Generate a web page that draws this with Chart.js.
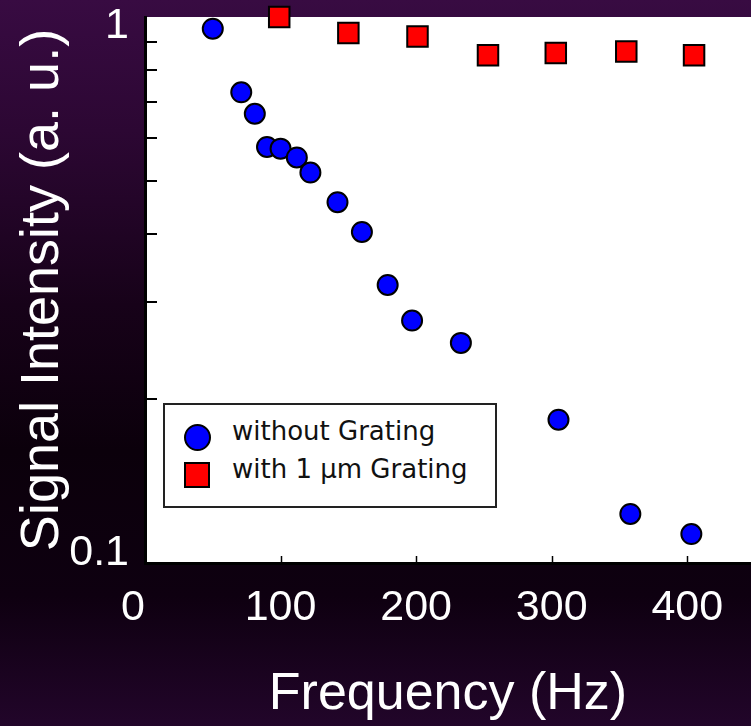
<!DOCTYPE html>
<html>
<head>
<meta charset="utf-8">
<script src="https://cdn.jsdelivr.net/npm/chart.js@4"></script>
<style>
  html, body { margin: 0; padding: 0; }
  body {
    width: 751px; height: 726px; overflow: hidden; position: relative;
    background: linear-gradient(to bottom, #380b42 0%, #2c0733 18%, #170219 42%, #0b000b 62%, #0e0010 82%, #22052a 100%);
  }
  #c { position: absolute; left: 0; top: 0; }
  .lg { position: absolute; box-sizing: border-box; }
  #lgbox { left: 163px; top: 403px; width: 334px; height: 105px; background: #fff; border: 2px solid #222; }
  #mk1 { left: 183.5px; top: 423.5px; width: 27px; height: 27px; background: #0000ff; border: 2px solid #000; border-radius: 50%; }
  #mk2 { left: 184px; top: 462px; width: 26px; height: 26px; background: #ff0000; border: 2px solid #000; }
  .lt { position: absolute; left: 232px; font-family: 'DejaVu Sans', sans-serif; font-size: 26px; line-height: 30px; color: #111; white-space: nowrap; }
  #lt1 { top: 416px; }
  #lt2 { top: 454px; }
</style>
</head>
<body>
<canvas id="c" width="751" height="726"></canvas>
<div class="lg" id="lgbox"></div>
<div class="lg" id="mk1"></div>
<div class="lg" id="mk2"></div>
<div class="lt" id="lt1">without Grating</div>
<div class="lt" id="lt2">with 1 μm Grating</div>
<script>
// ---- data ----
const freqWithout = [50, 71, 81, 90, 100, 112, 122, 142, 160, 179, 197, 233, 305, 358, 403];
const sigWithout  = [0.952, 0.728, 0.665, 0.578, 0.574, 0.553, 0.519, 0.458, 0.404, 0.323, 0.278, 0.253, 0.183, 0.123, 0.113];
const freqWith    = [99, 150, 201, 253, 303, 355, 405];
const sigWith     = [1.0, 0.935, 0.921, 0.851, 0.859, 0.865, 0.851];
const seriesNames = ['without Grating', 'with 1 μm Grating'];
const xTickValues = [0, 100, 200, 300, 400];
const yTickValues = [0.1, 0.2, 0.3, 0.4, 0.5, 0.6, 0.7, 0.8, 0.9, 1];
const yTickLabels = { '1': '1', '0.1': '0.1' };
const xTitle = 'Frequency (Hz)';
const yTitle = 'Signal Intensity (a. u.)';

const tickFont = "'Liberation Sans Narrow', 'Liberation Sans', Arial, sans-serif";
const titleFont = "'Liberation Sans', Arial, sans-serif";

const plotBg = {
  id: 'plotBg',
  beforeDraw(chart) {
    const { ctx, chartArea: a } = chart;
    ctx.save();
    ctx.fillStyle = '#ffffff';
    ctx.fillRect(a.left, a.top, a.right - a.left, a.bottom - a.top);
    ctx.restore();
  }
};

const innerTicks = {
  id: 'innerTicks',
  beforeDatasetsDraw(chart) {
    const { ctx, chartArea: a, scales: { x, y } } = chart;
    ctx.save();
    ctx.strokeStyle = '#000';
    ctx.lineWidth = 2;
    y.ticks.forEach(t => {
      if (t.value === 1 || t.value === 0.1) return;
      const py = Math.round(y.getPixelForValue(t.value));
      ctx.beginPath(); ctx.moveTo(a.left, py); ctx.lineTo(a.left + 12, py); ctx.stroke();
    });
    ctx.lineWidth = 1.5;
    x.ticks.forEach(t => {
      if (t.value === 0) return;
      const px = Math.round(x.getPixelForValue(t.value)) + 0.5;
      ctx.beginPath(); ctx.moveTo(px, a.bottom); ctx.lineTo(px, a.bottom - 7); ctx.stroke();
    });
    ctx.restore();
  }
};

new Chart(document.getElementById('c'), {
  type: 'scatter',
  data: {
    datasets: [
      {
        label: seriesNames[0],
        data: freqWithout.map((f, i) => ({ x: f, y: sigWithout[i] })),
        pointStyle: 'circle', pointRadius: 10, backgroundColor: '#0000ff',
        borderColor: '#000', borderWidth: 2, clip: false
      },
      {
        label: seriesNames[1],
        data: freqWith.map((f, i) => ({ x: f, y: sigWith[i] })),
        pointStyle: 'rect', pointRadius: 14.5, backgroundColor: '#ff0000',
        borderColor: '#000', borderWidth: 2, clip: false
      }
    ]
  },
  options: {
    responsive: false,
    animation: false,
    events: [],
    layout: { autoPadding: false, padding: { top: 17, right: 0, left: 0, bottom: 0 } },
    plugins: { legend: { display: false }, tooltip: { enabled: false } },
    scales: {
      x: {
        type: 'linear', min: 0, max: 447,
        afterBuildTicks: s => { s.ticks = xTickValues.map(v => ({ value: v })); },
        afterFit: s => { s.height = 163; s.paddingLeft = 0; s.paddingRight = 0; },
        grid: { display: false, drawTicks: false },
        border: { display: true, color: '#000', width: 3 },
        ticks: {
          color: '#fff', autoSkip: false, maxRotation: 0, padding: 19,
          font: { family: tickFont, size: 43 },
          callback: v => (v === 0 ? '0  ' : String(v))
        },
        title: {
          display: true, text: xTitle, color: '#fff',
          font: { family: titleFont, size: 52 },
          padding: { top: 0, bottom: 0 }
        }
      },
      y: {
        type: 'logarithmic', min: 0.1, max: 1,
        afterBuildTicks: s => { s.ticks = yTickValues.map(v => ({ value: v })); },
        afterFit: s => { s.width = 145; s.paddingTop = 0; s.paddingBottom = 0; },
        grid: { display: false, drawTicks: false },
        border: { display: true, color: '#000', width: 3 },
        ticks: {
          color: '#fff', autoSkip: false, padding: 16,
          font: { family: tickFont, size: 43, lineHeight: '19px' },
          callback: v => {
            const k = String(+v.toFixed(3));
            if (k === '1') return ['', yTickLabels['1']];
            if (k === '0.1') return [yTickLabels['0.1'], ''];
            return '';
          }
        },
        title: {
          display: true, text: yTitle, color: '#fff',
          font: { family: titleFont, size: 54 },
          padding: { top: 11, bottom: 0 }
        }
      }
    }
  },
  plugins: [plotBg, innerTicks]
});
</script>
</body>
</html>
